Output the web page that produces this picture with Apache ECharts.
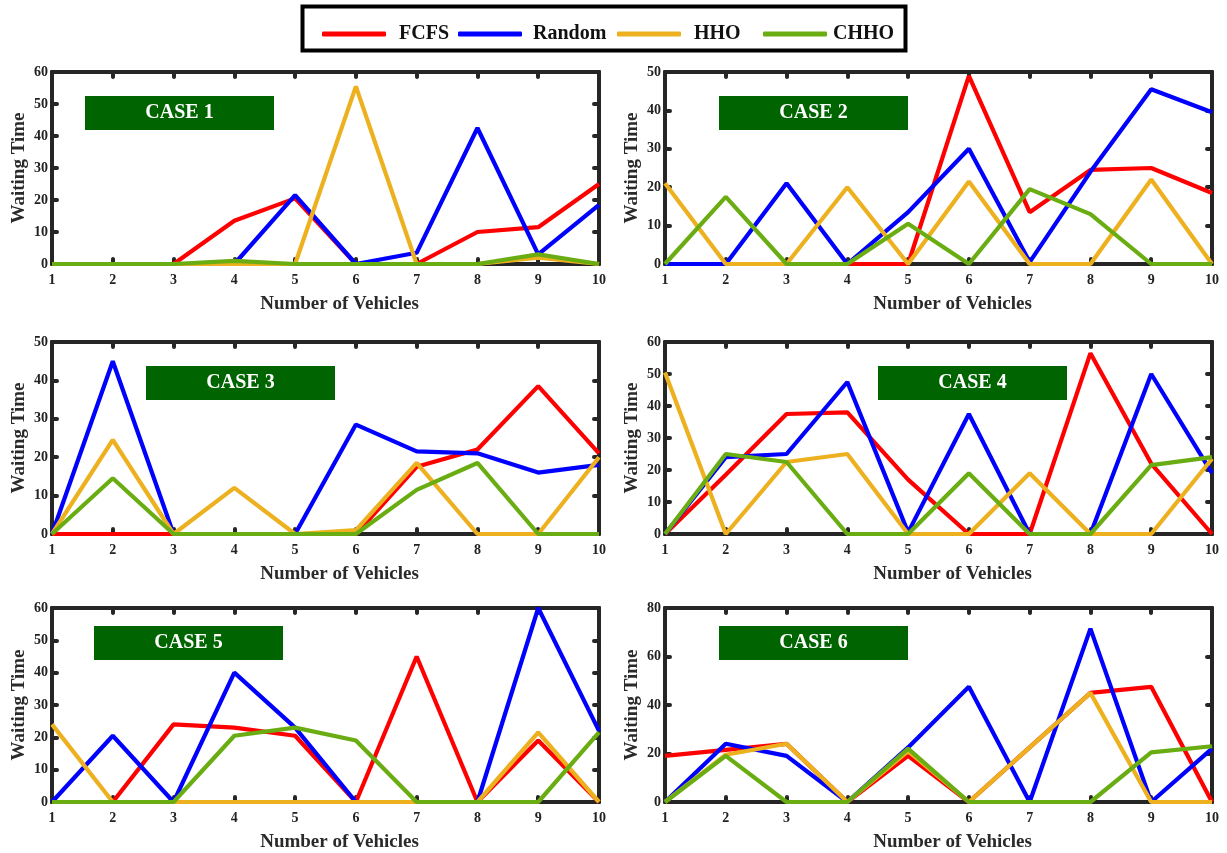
<!DOCTYPE html>
<html>
<head>
<meta charset="utf-8">
<script src="https://cdn.jsdelivr.net/npm/echarts@6/dist/echarts.min.js"></script>
<style>
  html, body { margin: 0; padding: 0; background: #fff; }
  #chart { width: 1227px; height: 853px; }
</style>
</head>
<body>
<div id="chart"></div>
<script>
// x axis: number of vehicles
const vehicles = [1, 2, 3, 4, 5, 6, 7, 8, 9, 10];
const methodNames = ['FCFS', 'Random', 'HHO', 'CHHO'];
const caseLabels = ['CASE 1', 'CASE 2', 'CASE 3', 'CASE 4', 'CASE 5', 'CASE 6'];
const yMax = [60, 50, 50, 60, 60, 80];
const yStep = [10, 10, 10, 10, 10, 20];

// waiting time per case (one row per case)
const fcfsWait = [
  [0, 0, 0, 13.5, 20.5, 0, 0, 10, 11.5, 25],
  [0, 0, 0, 0, 0, 49, 13.5, 24.5, 25, 18.5],
  [0, 0, 0, 0, 0, 0, 17.5, 22, 38.5, 21],
  [0, 18.5, 37.5, 38, 17, 0, 0, 56.5, 22, 0],
  [0, 0, 24, 23, 20.5, 0, 45, 0, 19, 0],
  [19, 21.5, 24, 0, 19, 0, 22.5, 45, 47.5, 0]
];
const randomWait = [
  [0, 0, 0, 0, 21.5, 0, 3.5, 42.5, 3, 18.5],
  [0, 0, 21, 0, 13.5, 30, 0.5, 24, 45.5, 39.5],
  [0, 45, 0, 0, 0, 28.5, 21.5, 21, 16, 18],
  [0, 24, 25, 47.5, 0.5, 37.5, 0, 0, 50, 19],
  [0, 20.5, 0, 40, 23, 0, 0, 0, 60, 22],
  [0, 24, 19, 0, 22.5, 47.5, 0, 71.5, 0, 22]
];
const hhoWait = [
  [0, 0, 0, 0, 0, 55.5, 0, 0, 2, 0],
  [21, 0, 0, 20, 0, 21.5, 0, 0, 22, 0],
  [0, 24.5, 0, 12, 0, 1, 18.5, 0, 0, 20],
  [50.5, 0, 22.5, 25, 0, 0, 19, 0, 0, 23.5],
  [24, 0, 0, 0, 0, 0, 0, 0, 21.5, 0],
  [0, 19.5, 24, 0, 21, 0, 22.5, 45, 0, 0]
];
const chhoWait = [
  [0, 0, 0, 1, 0, 0, 0, 0, 3, 0],
  [0, 17.5, 0, 0, 10.5, 0, 19.5, 13, 0, 0],
  [0, 14.5, 0, 0, 0, 0, 11.5, 18.5, 0, 0],
  [0, 25, 22.5, 0, 0, 19, 0, 0, 21.5, 24],
  [0, 0, 0, 20.5, 23, 19, 0, 0, 0, 21.5],
  [0, 19, 0, 0, 22, 0, 0, 0, 20.5, 23]
];

const methodData = [fcfsWait, randomWait, hhoWait, chhoWait];
const methodColors = ['#ff0000', '#0000ff', '#edb120', '#6aad12'];

const FONT = 'Liberation Serif';
const frameColor = '#262626';

// panel layout
const colLeft = [52, 665];
const rowTop = [72, 342, 608];
const rowHeight = [192, 192, 194];
const plotWidth = 547;
const caseBoxes = [
  [85, 96], [719, 96],
  [146, 366], [878, 366],
  [94, 626], [719, 626]
];

const grids = [];
const xAxes = [];
const yAxes = [];
const series = [];
const graphics = [];

for (let p = 0; p < 6; p++) {
  const col = p % 2;
  const row = Math.floor(p / 2);
  grids.push({
    left: colLeft[col],
    top: rowTop[row],
    width: plotWidth,
    height: rowHeight[row]
  });

  const frame = { show: true, onZero: false, lineStyle: { color: frameColor, width: 4 } };
  const tick = { show: true, inside: true, length: 5, lineStyle: { color: frameColor, width: 4, cap: 'round' } };

  // bottom x axis
  xAxes.push({
    type: 'value', gridIndex: p, position: 'bottom',
    min: 1, max: 10, interval: 1,
    axisLine: frame, axisTick: tick, splitLine: { show: false },
    axisLabel: { fontFamily: FONT, fontWeight: 'bold', fontSize: 14, color: '#222', margin: 9 },
    name: 'Number of Vehicles', nameLocation: 'middle', nameGap: 31,
    nameTextStyle: { fontFamily: FONT, fontWeight: 'bold', fontSize: 19, color: '#2a2a2a', padding: [0, 0, 0, 28] }
  });
  // top x axis (frame + ticks only)
  xAxes.push({
    type: 'value', gridIndex: p, position: 'top',
    min: 1, max: 10, interval: 1,
    axisLine: frame, axisTick: tick, splitLine: { show: false },
    axisLabel: { show: false }
  });
  // left y axis
  yAxes.push({
    type: 'value', gridIndex: p, position: 'left',
    min: 0, max: yMax[p], interval: yStep[p],
    axisLine: frame, axisTick: tick, splitLine: { show: false },
    axisLabel: { fontFamily: FONT, fontWeight: 'bold', fontSize: 14, color: '#222', margin: 4 },
    name: 'Waiting Time', nameLocation: 'middle', nameGap: 23,
    nameTextStyle: { fontFamily: FONT, fontWeight: 'bold', fontSize: 19, color: '#2a2a2a' }
  });
  // right y axis (frame + ticks only)
  yAxes.push({
    type: 'value', gridIndex: p, position: 'right',
    min: 0, max: yMax[p], interval: yStep[p],
    axisLine: frame, axisTick: tick, splitLine: { show: false },
    axisLabel: { show: false }
  });

  methodNames.forEach((name, m) => {
    series.push({
      name: name,
      type: 'line',
      xAxisIndex: p * 2,
      yAxisIndex: p * 2,
      data: vehicles.map((v, i) => [v, methodData[m][p][i]]),
      symbol: 'none',
      clip: false,
      lineStyle: { color: methodColors[m], width: 4.2 },
      itemStyle: { color: methodColors[m] },
      animation: false
    });
  });

  // CASE label box
  graphics.push({
    type: 'group',
    left: caseBoxes[p][0],
    top: caseBoxes[p][1],
    children: [
      { type: 'rect', shape: { x: 0, y: 0, width: 189, height: 34 }, style: { fill: '#006400' } },
      {
        type: 'text', x: 94.5, y: 17,
        style: {
          text: caseLabels[p], fill: '#fff', font: 'bold 20px "Liberation Serif"',
          textAlign: 'center', textVerticalAlign: 'middle'
        }
      }
    ]
  });
}

// legend frame
graphics.push({
  type: 'rect', left: 300, top: 4,
  shape: { x: 0, y: 0, width: 603, height: 44 },
  style: { fill: 'none', stroke: '#000', lineWidth: 4 },
  z: 10
});

// one legend per method so the columns sit where they do in the figure
const legendLeft = [317, 453, 612, 758];
const legendTextPad = [8, 6, 8, 1];
const legends = methodNames.map((name, m) => ({
  data: [name],
  left: legendLeft[m],
  top: 19,
  icon: 'roundRect',
  itemWidth: 64,
  itemHeight: 5,
  selectedMode: false,
  textStyle: { fontFamily: FONT, fontWeight: 'bold', fontSize: 20, color: '#111', padding: [0, 0, 0, legendTextPad[m]] }
}));

const chart = echarts.init(document.getElementById('chart'));
chart.setOption({
  backgroundColor: '#fff',
  animation: false,
  legend: legends,
  grid: grids,
  xAxis: xAxes,
  yAxis: yAxes,
  series: series,
  graphic: graphics
});
</script>
</body>
</html>
